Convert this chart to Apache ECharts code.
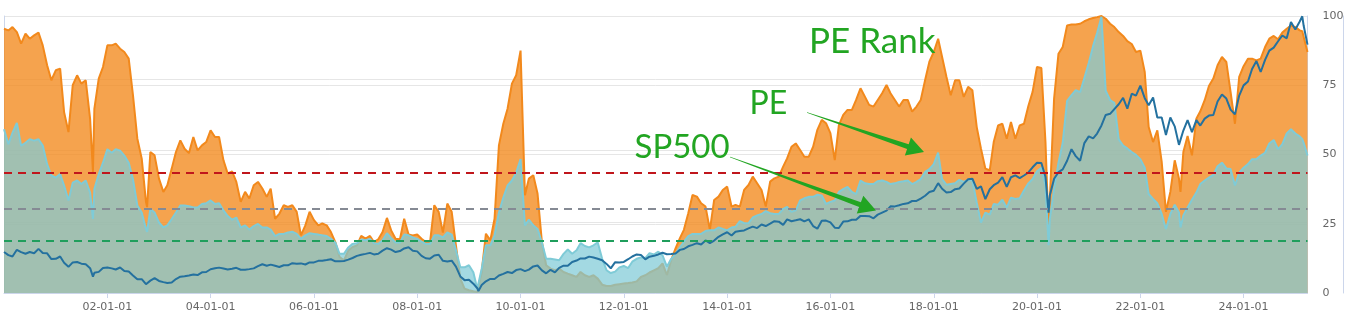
<!DOCTYPE html>
<html>
<head>
<meta charset="utf-8">
<title>SP500 PE Rank</title>
<script src="https://cdn.jsdelivr.net/npm/echarts@6/dist/echarts.min.js"></script>
<style>
  html, body { margin: 0; padding: 0; background: #ffffff; }
  #chart { width: 1347px; height: 330px; }
</style>
</head>
<body>
<div id="chart"></div>
<script>
// Sample dates: the first of every month from 2000-01 to 2025-03,
// plus a few extra days that catch sharp turning points.
const monthStarts = [];
for (let y = 2000; y <= 2025; y++) {
  for (let m = 1; m <= 12; m++) {
    if (y === 2025 && m > 3) break;
    monthStarts.push(y + '-' + String(m).padStart(2, '0') + '-01');
  }
}
const extraDates = ['2001-09-21', '2002-10-09', '2009-03-09', '2020-03-23', '2022-10-12', '2025-02-19', '2025-03-28'];
const dates = monthStarts.concat(extraDates).sort();

// PE percentile rank (0-100), one row per year
const peRank = [
  95.4, 94.8, 96.0, 94.2, 90.0, 93.6, 91.8, 93.0, 94.0, 89.4, 82.2, 76.8,
  80.4, 81.0, 65.3, 58.1, 75.0, 78.6, 75.6, 76.8, 62.9, 43.7, 66.5, 77.4, 81.6,
  89.4, 89.4, 90.0, 88.2, 87.0, 84.6, 71.4, 55.7, 48.5, 32.9, 31.0, 50.9, 49.7,
  41.3, 36.5, 38.9, 44.9, 50.9, 55.1, 52.1, 50.5, 56.3, 51.5, 53.3, 54.5,
  58.7, 56.3, 56.3, 47.9, 43.1, 43.9, 40.1, 32.9, 36.5, 34.1, 38.9, 40.1,
  37.7, 34.7, 37.7, 26.8, 28.6, 31.7, 31.1, 31.7, 29.3, 20.8, 24.4, 29.3,
  26.3, 24.4, 25.1, 24.4, 22.0, 18.4, 13.0, 11.8, 15.4, 16.6, 17.2, 20.6,
  19.6, 20.6, 18.4, 19.4, 22.0, 27.1, 22.6, 19.6, 19.4, 26.8, 21.1, 20.8,
  21.1, 19.6, 18.4, 18.4, 31.7, 29.3, 21.8, 32.3, 29.3, 17.2, 5.2, 1.6,
  1.0, 0.6, 0.4, 0.2, 7.6, 21.4, 19.0, 26.8, 53.3, 61.1, 66.5, 75.6, 78.6,
  87.5, 35.3, 41.3, 42.5, 35.9, 18.4, 10.0, 8.8, 8.2, 8.8, 7.6, 7.0,
  6.4, 5.8, 7.6, 6.4, 5.8, 6.4, 5.2, 3.0, 2.5, 2.5, 3.0, 3.2,
  3.4, 3.6, 3.8, 4.2, 5.8, 6.4, 7.4, 8.2, 9.0, 10.7, 6.5, 11.9,
  16.1, 19.8, 22.8, 28.8, 35.4, 34.8, 32.4, 31.2, 22.8, 33.6, 34.8, 37.2,
  38.4, 31.2, 31.8, 31.2, 37.2, 39.0, 42.0, 39.6, 37.2, 31.2, 40.2, 41.4,
  42.0, 45.6, 48.6, 52.8, 54.0, 51.6, 49.2, 49.2, 52.8, 58.9, 62.5, 61.3,
  57.7, 48.0, 60.6, 64.3, 66.1, 66.1, 69.7, 73.9, 70.9, 67.9, 67.3, 69.7,
  72.1, 75.1, 72.1, 69.7, 67.3, 69.7, 69.7, 65.5, 67.3, 69.7, 76.9, 83.5,
  87.0, 91.8, 85.2, 78.0, 71.4, 76.8, 76.8, 70.8, 74.4, 73.2, 59.9, 52.1,
  44.9, 44.3, 54.5, 60.5, 61.1, 55.7, 61.7, 55.7, 60.5, 61.1, 67.5, 72.6,
  81.6, 81.2, 54.5, 23.2, 34.1, 70.2, 86.4, 88.8, 96.6, 96.9, 96.9, 97.2, 98.1,
  98.8, 99.3, 99.6, 100, 99.0, 97.2, 96.0, 94.2, 92.8, 90.9, 89.9, 87.0,
  87.5, 79.8, 59.9, 54.5, 58.7, 47.3, 29.3, 36.5, 47.9, 41.3, 36.5, 50.9, 56.7,
  49.7, 62.9, 65.6, 69.6, 74.7, 77.4, 82.2, 85.2, 83.4, 72.6, 61.1, 78.0,
  81.9, 84.6, 84.6, 84.0, 84.6, 88.8, 91.8, 92.8, 91.6, 94.0, 95.4, 96.6,
  96.0, 94.8, 94.5, 94.0, 87.0
];

// Price / earnings ratio
const pe = [
  23.0, 20.9, 22.5, 23.9, 20.7, 21.1, 21.6, 21.4, 21.6, 20.7, 18.1, 16.5,
  16.2, 16.7, 15.1, 13.0, 15.5, 15.8, 15.3, 15.8, 14.1, 10.4, 14.6, 16.7, 18.3,
  20.2, 19.7, 20.2, 20.0, 19.3, 18.3, 16.0, 12.3, 11.3, 9.0, 8.6, 11.8, 11.3,
  9.9, 9.2, 9.5, 10.4, 11.3, 12.3, 12.3, 12.2, 12.0, 12.0, 12.5, 12.6,
  13.0, 12.5, 12.6, 11.6, 10.8, 10.3, 10.6, 9.2, 9.5, 8.9, 9.4, 9.7,
  9.2, 9.2, 8.9, 8.0, 8.3, 8.3, 8.5, 8.6, 8.3, 7.6, 8.1, 8.4,
  8.3, 8.2, 8.1, 8.0, 7.6, 7.1, 5.5, 5.5, 6.4, 6.9, 7.0, 7.5,
  7.4, 7.6, 7.0, 6.9, 7.4, 8.4, 7.7, 7.1, 7.1, 8.2, 8.1, 7.8,
  7.6, 7.2, 6.9, 6.9, 8.1, 8.1, 7.8, 8.5, 8.2, 6.0, 3.6, 3.6,
  3.9, 2.9, 0.6, 0.4, 3.4, 6.7, 6.7, 8.1, 11.3, 13.4, 15.1, 15.8, 16.9,
  18.8, 9.5, 10.3, 9.5, 9.0, 7.1, 4.8, 4.8, 4.7, 4.6, 5.5, 6.1,
  5.5, 6.0, 7.0, 6.6, 6.4, 6.7, 7.1, 4.8, 3.2, 2.8, 3.0, 3.6,
  3.8, 3.5, 4.4, 4.8, 5.0, 4.9, 5.6, 5.4, 5.8, 5.3, 3.7, 4.8,
  5.5, 6.4, 7.2, 8.0, 8.3, 8.3, 8.3, 8.7, 8.8, 8.8, 9.2, 9.0,
  8.8, 9.2, 9.3, 10.1, 9.8, 9.8, 10.6, 10.9, 11.1, 11.5, 11.2, 11.1,
  11.1, 11.8, 12.1, 11.4, 11.6, 13.0, 13.3, 13.5, 13.5, 13.8, 13.7, 12.5,
  12.8, 13.0, 14.2, 14.6, 14.9, 14.2, 13.9, 15.8, 15.4, 15.3, 15.3, 15.7,
  15.8, 15.6, 15.3, 15.4, 15.6, 15.7, 15.8, 15.3, 15.6, 16.0, 17.0, 17.4,
  18.1, 19.7, 16.0, 15.2, 15.3, 15.4, 15.9, 15.6, 15.9, 15.8, 12.7, 9.9,
  11.3, 11.0, 12.5, 12.4, 13.1, 12.0, 13.4, 13.2, 13.3, 14.4, 15.4, 16.0,
  17.1, 17.6, 15.1, 6.7, 10.4, 14.6, 18.3, 21.1, 27.0, 27.8, 28.5, 28.2, 30.2,
  32.3, 34.7, 36.5, 38.8, 28.4, 27.1, 26.7, 21.6, 20.7, 20.3, 19.8, 19.4,
  18.8, 17.6, 13.9, 13.2, 12.6, 11.1, 9.0, 11.1, 12.4, 11.3, 9.2, 10.9, 12.0,
  13.1, 14.1, 15.3, 15.8, 16.2, 16.6, 17.8, 18.3, 17.5, 17.4, 15.1, 16.9,
  17.6, 18.1, 18.8, 18.8, 19.3, 19.7, 21.0, 21.5, 20.2, 20.9, 22.4, 23.0,
  22.4, 22.0, 21.6, 21.1, 19.3
];

// S&P 500 index level
const sp500 = [
  1455, 1394, 1366, 1499, 1452, 1421, 1455, 1431, 1518, 1437, 1429, 1315,
  1320, 1366, 1240, 1160, 1249, 1256, 1224, 1211, 1134, 966, 1041, 1060, 1139,
  1148, 1130, 1107, 1147, 1076, 1067, 990, 912, 916, 815, 777, 886, 936,
  880, 856, 841, 848, 917, 964, 975, 990, 1008, 996, 1051, 1058,
  1112, 1131, 1145, 1126, 1107, 1121, 1141, 1102, 1104, 1115, 1130, 1174,
  1212, 1181, 1204, 1181, 1157, 1192, 1191, 1234, 1220, 1229, 1207, 1249,
  1248, 1280, 1281, 1295, 1311, 1270, 1270, 1277, 1304, 1336, 1378, 1401,
  1418, 1438, 1407, 1421, 1482, 1531, 1503, 1455, 1474, 1527, 1549, 1481,
  1468, 1379, 1331, 1323, 1386, 1400, 1280, 1267, 1283, 1166, 969, 896,
  903, 826, 735, 677, 798, 873, 919, 919, 987, 1021, 1057, 1036, 1096,
  1115, 1074, 1104, 1169, 1187, 1089, 1031, 1102, 1049, 1141, 1183, 1181,
  1258, 1286, 1327, 1326, 1364, 1345, 1321, 1292, 1219, 1131, 1253, 1247,
  1258, 1312, 1366, 1408, 1398, 1310, 1362, 1379, 1407, 1441, 1412, 1416,
  1426, 1498, 1515, 1569, 1598, 1631, 1606, 1686, 1633, 1682, 1757, 1806,
  1848, 1783, 1859, 1872, 1884, 1924, 1960, 1931, 2003, 1972, 2018, 2068,
  2059, 1995, 2105, 2068, 2086, 2107, 2063, 2104, 1972, 1920, 2079, 2080,
  2044, 1940, 1932, 2060, 2065, 2097, 2099, 2174, 2171, 2168, 2126, 2199,
  2239, 2279, 2364, 2363, 2384, 2412, 2423, 2470, 2472, 2519, 2575, 2648,
  2674, 2824, 2714, 2641, 2648, 2705, 2718, 2816, 2902, 2914, 2712, 2760,
  2507, 2704, 2784, 2834, 2946, 2752, 2942, 2980, 2926, 2977, 3038, 3141,
  3231, 3226, 2954, 2237, 2585, 2912, 3044, 3100, 3271, 3500, 3363, 3270, 3622,
  3756, 3714, 3811, 3973, 4181, 4204, 4298, 4395, 4523, 4308, 4605, 4567,
  4766, 4516, 4374, 4530, 4132, 4132, 3785, 4130, 3955, 3586, 3577, 3872, 4080,
  3840, 4077, 3970, 4109, 4169, 4180, 4450, 4589, 4508, 4288, 4194, 4568,
  4770, 4846, 5096, 5254, 5036, 5278, 5460, 5522, 5648, 5762, 5705, 6032,
  5882, 6041, 6144, 5955, 5581
];

// Reference levels on the PE scale: upper band, mean, lower band
const peBands = [16.85, 11.77, 7.33];

// Years that carry an x-axis label
const labelYears = [2002, 2004, 2006, 2008, 2010, 2012, 2014, 2016, 2018, 2020, 2022, 2024];

function toTime(s) {
  const p = s.split('-').map(Number);
  return new Date(p[0], p[1] - 1, p[2]).getTime();
}
const times = dates.map(toTime);
const tickTimes = labelYears.map(function (y) { return new Date(y, 0, 1).getTime(); });
const pad2 = function (n) { return String(n).padStart(2, '0'); };
const zip = function (values) { return times.map(function (t, i) { return [t, values[i]]; }); };

const axisGray = '#ccd6eb';
const gridGray = '#e6e6e6';
const labelStyle = { color: '#666666', fontSize: 11, fontFamily: 'DejaVu Sans' };
const green = '#22a522';

// Tapered arrow outline from a thin tail to a triangular head
function arrowPoints(tail, tip, tailHalf, shaftHalf, headLen, headHalf) {
  const dx = tip[0] - tail[0], dy = tip[1] - tail[1];
  const len = Math.hypot(dx, dy);
  const ux = dx / len, uy = dy / len;
  const nx = -uy, ny = ux;
  const bx = tip[0] - ux * headLen, by = tip[1] - uy * headLen;
  return [
    [tail[0] + nx * tailHalf, tail[1] + ny * tailHalf],
    [bx + nx * shaftHalf, by + ny * shaftHalf],
    [bx + nx * headHalf, by + ny * headHalf],
    [tip[0], tip[1]],
    [bx - nx * headHalf, by - ny * headHalf],
    [bx - nx * shaftHalf, by - ny * shaftHalf],
    [tail[0] - nx * tailHalf, tail[1] - ny * tailHalf]
  ];
}

const chart = echarts.init(document.getElementById('chart'), null, { renderer: 'canvas' });

chart.setOption({
  animation: false,
  grid: { left: 4, right: 39.5, top: 16, bottom: 37 },
  xAxis: {
    type: 'value',
    min: 'dataMin',
    max: 'dataMax',
    axisLine: { show: true, lineStyle: { color: axisGray, width: 1 } },
    axisTick: { show: true, customValues: tickTimes, length: 5, lineStyle: { color: axisGray } },
    axisLabel: Object.assign({
      customValues: tickTimes,
      margin: 9,
      formatter: function (v) {
        const d = new Date(v);
        return String(d.getFullYear()).slice(2) + '-' + pad2(d.getMonth() + 1) + '-' + pad2(d.getDate());
      }
    }, labelStyle),
    splitLine: { show: false }
  },
  yAxis: [
    {
      type: 'value', position: 'right', min: 0, max: 100, interval: 25,
      axisLine: { show: true, lineStyle: { color: axisGray } },
      axisTick: { show: false },
      axisLabel: Object.assign({ margin: 15 }, labelStyle),
      splitLine: { show: true, lineStyle: { color: gridGray, width: 1 } }
    },
    {
      type: 'value', position: 'left', min: 0, max: 38.9, interval: 10,
      axisLine: { show: true, lineStyle: { color: axisGray } },
      axisTick: { show: false },
      axisLabel: { show: false },
      splitLine: { show: true, lineStyle: { color: gridGray, width: 1 } }
    },
    {
      type: 'value', position: 'right', offset: 36, min: 640, max: 6150,
      axisLine: { show: true, lineStyle: { color: axisGray } },
      axisTick: { show: false },
      axisLabel: { show: false },
      splitLine: { show: false }
    }
  ],
  series: [
    {
      name: 'PE Rank',
      type: 'line',
      yAxisIndex: 0,
      data: zip(peRank),
      symbol: 'none',
      lineStyle: { color: '#f2891c', width: 2 },
      itemStyle: { color: '#f2891c' },
      areaStyle: { color: '#f2891c', opacity: 0.78 },
      z: 2
    },
    {
      name: 'PE',
      type: 'line',
      yAxisIndex: 1,
      data: zip(pe),
      symbol: 'none',
      lineStyle: { color: '#7fcbd7', width: 2 },
      itemStyle: { color: '#7fcbd7' },
      areaStyle: { color: '#7fcbd7', opacity: 0.72 },
      markLine: {
        silent: true,
        symbol: 'none',
        label: { show: false },
        lineStyle: { type: [8, 6], width: 2 },
        data: [
          { yAxis: peBands[0], lineStyle: { color: '#c0161c', type: [8, 6], width: 2 } },
          { yAxis: peBands[1], lineStyle: { color: '#858a94', type: [8, 6], width: 2 } },
          { yAxis: peBands[2], lineStyle: { color: '#1f9e5c', type: [8, 6], width: 2 } }
        ]
      },
      z: 3
    },
    {
      name: 'SP500',
      type: 'line',
      yAxisIndex: 2,
      data: zip(sp500),
      symbol: 'none',
      lineStyle: { color: '#24719f', width: 2 },
      itemStyle: { color: '#24719f' },
      z: 4
    }
  ],
  graphic: [
    { type: 'text', x: 809, y: 42, z: 100,
      style: { text: 'PE Rank', font: '35px Lato', fill: green, align: 'left', verticalAlign: 'middle', textAlign: 'left', textVerticalAlign: 'middle' } },
    { type: 'text', x: 749.5, y: 104, z: 100,
      style: { text: 'PE', font: '32px Lato', fill: green, align: 'left', verticalAlign: 'middle', textAlign: 'left', textVerticalAlign: 'middle' } },
    { type: 'text', x: 634.5, y: 147, z: 100,
      style: { text: 'SP500', font: '33px Lato', fill: green, align: 'left', verticalAlign: 'middle', textAlign: 'left', textVerticalAlign: 'middle' } },
    { type: 'polygon', z: 100,
      shape: { points: arrowPoints([807, 112.5], [924, 152], 0.3, 2.5, 17, 9.5) },
      style: { fill: green } },
    { type: 'polygon', z: 100,
      shape: { points: arrowPoints([730, 157], [876, 210.5], 0.3, 2.5, 17, 9.5) },
      style: { fill: green } }
  ]
});
</script>
</body>
</html>
